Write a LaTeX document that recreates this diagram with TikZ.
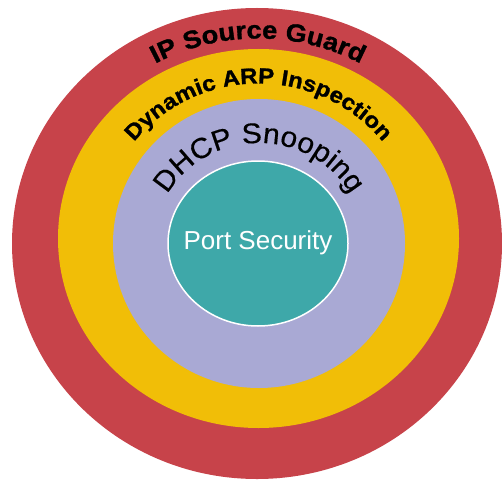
\documentclass[tikz,border=0pt]{standalone}
\usepackage{fontspec}
\setmainfont{Liberation Sans}
\usepackage{xcolor}
\usepackage{tikz}
\usetikzlibrary{decorations.text}
\definecolor{guardred}{HTML}{C7434A}
\definecolor{arpyellow}{HTML}{F1BE07}
\definecolor{dhcplilac}{HTML}{A9A9D4}
\definecolor{portteal}{HTML}{3EA8A9}
\newfontfamily\ringbold[FakeStretch=1.09,FakeBold=1.2]{Liberation Sans Bold}
\newfontfamily\ringplain[FakeStretch=1.05,FakeBold=0.4]{Liberation Sans}
\newcommand{\guardfont}{\ringbold\fontsize{25}{25}\selectfont}
\newcommand{\arpfont}{\ringbold\fontsize{22}{22}\selectfont}
\newcommand{\dhcpfont}{\ringplain\fontsize{28.5}{28.5}\selectfont}

\begin{document}
\begin{tikzpicture}[x=1pt,y=1pt]
    \useasboundingbox (0,0) rectangle (502,480);
    % rings, outside in
    \fill[guardred] (257,236.5) ellipse[x radius=245pt,y radius=235.5pt];
    \fill[arpyellow] (258.5,241.5) ellipse[x radius=200.5pt,y radius=189.5pt];
    \fill[dhcplilac] (259,236.5) ellipse[x radius=146pt,y radius=144.5pt];
    \draw[white,line width=1.5pt,fill=portteal] (258,236.5) ellipse[x radius=90pt,y radius=82.5pt];
    \node[white,font=\fontsize{26}{26}\selectfont] (port) at (258,237) {Port Security};
    % curved labels
    \path[decorate,decoration={text along path,text align=center,
        text={|\guardfont|IP Source Guard}}]
      (258,236.5) ++(170:214pt and 205pt) arc[start angle=170,end angle=10,x radius=214pt,y radius=205pt];
    \path[decorate,decoration={text along path,text align=center,
        text={|\arpfont|Dynamic ARP Inspection}}]
      (258.5,239) ++(175:160pt and 157.5pt) arc[start angle=175,end angle=5,x radius=160pt,y radius=157.5pt];
    \path[decorate,decoration={text along path,text align=center,
        text={|\dhcpfont|DHCP Snooping}}]
      (259,236.5) ++(175:105pt and 100.5pt) arc[start angle=175,end angle=5,x radius=105pt,y radius=100.5pt];
  \end{tikzpicture}
\end{document}
